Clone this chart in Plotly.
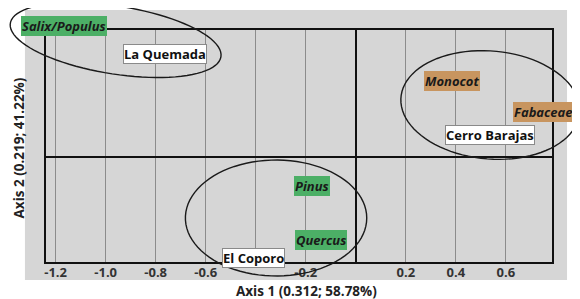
import numpy as np
import plotly.graph_objects as go

# ---- data ----
taxa = ["Salix/Populus", "Monocot", "Fabaceae", "Pinus", "Quercus"]
taxa_x = [-1.167, 0.386, 0.749, -0.175, -0.139]
taxa_y = [0.522, 0.303, 0.179, -0.116, -0.331]
taxa_group = ["green", "brown", "brown", "green", "green"]

sites = ["La Quemada", "Cerro Barajas", "El Coporo"]
sites_x = [-0.761, 0.538, -0.410]
sites_y = [0.410, 0.088, -0.402]

tick_vals = [-1.2, -1.0, -0.8, -0.6, -0.4, -0.2, 0.2, 0.4, 0.6]
tick_text = ["-1.2", "-1.0", "-0.8", "-0.6", "", "-0.2", "0.2", "0.4", "0.6"]

# ---- geometry (page pixels; the page body adds an 8px offset) ----
OFF = 8
W, H = 580 - OFF, 299 - OFF
BOX_L, BOX_R, BOX_T, BOX_B = 44, 552, 30, 262
XR = [-1.239, 0.785]
YR = [-0.418, 0.506]

GRAY = "#d6d6d6"
GREEN = "#4caf66"
BROWN = "#c8955f"
FONT = "Open Sans"


def px_to_paper(px, py):
    return (px - OFF) / W, (H + OFF - py) / H


xdom = [px_to_paper(BOX_L, 0)[0], px_to_paper(BOX_R, 0)[0]]
ydom = [px_to_paper(0, BOX_B)[1], px_to_paper(0, BOX_T)[1]]

# full-figure overlay axes with identical scale to the main axes
sx = (BOX_R - BOX_L) / (XR[1] - XR[0])
sy = (BOX_B - BOX_T) / (YR[1] - YR[0])
XR2 = [XR[0] - (BOX_L - OFF) / sx, XR[1] + (580 - BOX_R) / sx]
YR2 = [YR[0] - (299 - BOX_B) / sy, YR[1] + (BOX_T - OFF) / sy]


def ellipse_path(cx, cy, a, b, ang_deg, n=90):
    t = np.linspace(0, 2 * np.pi, n)
    ang = np.deg2rad(ang_deg)
    xs = cx + a * np.cos(t) * np.cos(ang) - b * np.sin(t) * np.sin(ang)
    ys = cy + a * np.cos(t) * np.sin(ang) + b * np.sin(t) * np.cos(ang)
    pts = [px_to_paper(x, y) for x, y in zip(xs, ys)]
    return "M " + " L ".join(f"{x:.5f},{y:.5f}" for x, y in pts) + " Z"


fig = go.Figure()
fig.add_trace(go.Scatter(x=taxa_x + sites_x, y=taxa_y + sites_y, mode="markers",
                         marker=dict(opacity=0), hoverinfo="skip", showlegend=False,
                         xaxis="x2", yaxis="y2"))
fig.add_trace(go.Scatter(x=[None], y=[None], mode="markers", hoverinfo="skip", showlegend=False))

shapes = []
gx0, gy1 = px_to_paper(23, 10)
gx1, gy0 = px_to_paper(567, 280)
shapes.append(dict(type="rect", xref="paper", yref="paper", x0=gx0, x1=gx1, y0=gy0, y1=gy1,
                   fillcolor=GRAY, line=dict(width=0), layer="below"))
for (cx, cy, a, b, ang) in [(114, 40, 107, 34, 9), (490, 105, 90, 54, 5), (275, 218, 91, 58, 0)]:
    shapes.append(dict(type="path", xref="paper", yref="paper", path=ellipse_path(cx, cy, a, b, ang),
                       line=dict(color="#1a1a1a", width=1.4), layer="above"))

annotations = []
for name, x, y, g in zip(taxa, taxa_x, taxa_y, taxa_group):
    annotations.append(dict(x=x, y=y, xref="x2", yref="y2", text=f"<b><i>{name}</i></b>", showarrow=False,
                            xanchor="center", yanchor="middle",
                            font=dict(family=FONT, size=13, color="#1a1a1a"),
                            bgcolor=GREEN if g == "green" else BROWN, borderpad=1, borderwidth=0))
for name, x, y in zip(sites, sites_x, sites_y):
    annotations.append(dict(x=x, y=y, xref="x2", yref="y2", text=f"<b>{name}</b>", showarrow=False,
                            xanchor="center", yanchor="middle",
                            font=dict(family=FONT, size=13, color="#111"),
                            bgcolor="white", bordercolor="#8a8a8a", borderwidth=1, borderpad=0))
ax1x, ax1y = px_to_paper(306, 291)
annotations.append(dict(x=ax1x, y=ax1y, xref="paper", yref="paper", text="<b>Axis 1 (0.312; 58.78%)</b>",
                        showarrow=False, xanchor="center", yanchor="middle",
                        font=dict(family=FONT, size=13.5, color="#222")))
ax2x, ax2y = px_to_paper(17.5, 148)
annotations.append(dict(x=ax2x, y=ax2y, xref="paper", yref="paper", text="<b>Axis 2 (0.219; 41.22%)</b>",
                        showarrow=False, textangle=-90, xanchor="center", yanchor="middle",
                        font=dict(family=FONT, size=13.5, color="#222")))

fig.update_layout(
    width=W, height=H, margin=dict(l=0, r=0, t=0, b=0, pad=0),
    paper_bgcolor="white", plot_bgcolor="rgba(0,0,0,0)",
    shapes=shapes, annotations=annotations, showlegend=False,
    xaxis=dict(domain=xdom, range=XR, tickvals=tick_vals, ticktext=tick_text,
               showgrid=True, gridcolor="#8c8c8c", gridwidth=1,
               zeroline=True, zerolinecolor="#111", zerolinewidth=2,
               showline=True, linecolor="#111", linewidth=2, mirror=True, ticks="",
               ticklabelstandoff=-3,
               tickfont=dict(family=FONT, size=13, color="#333", weight="bold"), fixedrange=True),
    yaxis=dict(domain=ydom, range=YR, showgrid=False, showticklabels=False, zeroline=True,
               zerolinecolor="#111", zerolinewidth=2, showline=True, linecolor="#111",
               linewidth=2, mirror=True, ticks="", fixedrange=True),
    xaxis2=dict(domain=[0, 1], range=XR2, visible=False, anchor="y2", fixedrange=True),
    yaxis2=dict(domain=[0, 1], range=YR2, visible=False, anchor="x2", fixedrange=True),
)

fig.write_html("out.html")
